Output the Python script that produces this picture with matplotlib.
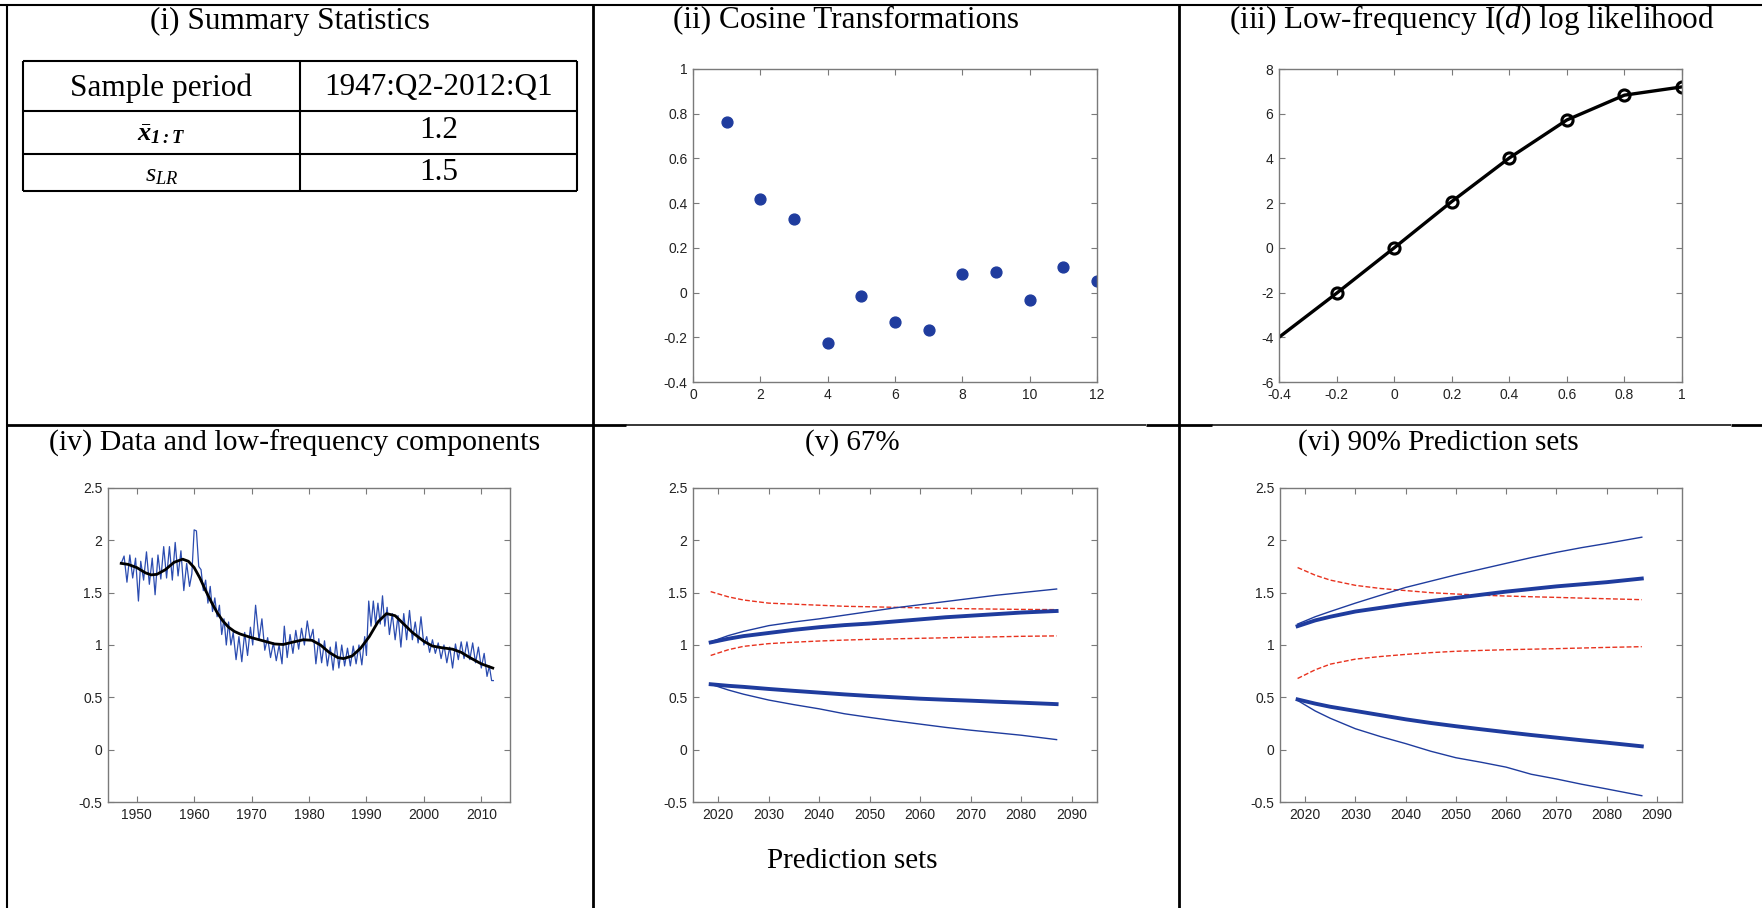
import matplotlib.pyplot as plt
from matplotlib.lines import Line2D
from matplotlib.ticker import FuncFormatter, MultipleLocator

plt.rcParams['axes.unicode_minus'] = False
plt.rcParams['mathtext.fontset'] = 'custom'
plt.rcParams['mathtext.rm'] = 'Liberation Serif'
plt.rcParams['mathtext.it'] = 'Liberation Serif:italic'
plt.rcParams['mathtext.bf'] = 'Liberation Serif:italic:bold'

# ---------------- data ----------------
# (ii) cosine transformations
cos_k = [1, 2, 3, 4, 5, 6, 7, 8, 9, 10, 11, 12]
cos_vals = [0.762, 0.418, 0.329, -0.225, -0.017, -0.131, -0.168,
            0.082, 0.093, -0.034, 0.116, 0.052]

# (iii) low-frequency I(d) log likelihood
d_grid = [-0.4, -0.2, 0.0, 0.2, 0.4, 0.6, 0.8, 1.0]
loglik = [-4.0, -2.03, 0.0, 2.07, 4.02, 5.72, 6.83, 7.2]

# (iv) data (turning points of the quarterly series) and low-frequency trend
data_years = [1947.3, 1947.8, 1948.3, 1948.8, 1949.3, 1949.8, 1950.3, 1950.7,
              1951.2, 1951.7, 1952.2, 1952.7, 1953.2, 1953.7, 1954.2, 1954.7,
              1955.2, 1955.7, 1956.2, 1956.7, 1957.2, 1957.7, 1958.2, 1958.7,
              1959.2, 1959.6, 1960.0, 1960.4, 1960.8, 1961.2, 1961.6, 1962.0,
              1962.4, 1962.8, 1963.2, 1963.6, 1964.0, 1964.4, 1964.8, 1965.2,
              1965.6, 1966.0, 1966.4, 1966.8, 1967.3, 1967.8, 1968.3, 1968.8,
              1969.3, 1969.8, 1970.2, 1970.7, 1971.3, 1971.8, 1972.3, 1972.8,
              1973.3, 1973.8, 1974.3, 1974.8, 1975.3, 1975.7, 1976.2, 1976.7,
              1977.2, 1977.7, 1978.2, 1978.7, 1979.2, 1979.7, 1980.2, 1980.7,
              1981.2, 1981.7, 1982.2, 1982.7, 1983.2, 1983.7, 1984.2, 1984.7,
              1985.2, 1985.7, 1986.2, 1986.7, 1987.2, 1987.7, 1988.2, 1988.7,
              1989.2, 1989.7, 1990.0, 1990.4, 1990.8, 1991.2, 1991.6, 1992.0,
              1992.4, 1992.8, 1993.2, 1993.6, 1994.0, 1994.5, 1995.0, 1995.5,
              1996.0, 1996.5, 1997.0, 1997.5, 1998.0, 1998.5, 1999.0, 1999.5,
              2000.0, 2000.5, 2001.0, 2001.5, 2002.0, 2002.5, 2003.0, 2003.5,
              2004.0, 2004.5, 2005.0, 2005.5, 2006.0, 2006.5, 2007.0, 2007.5,
              2008.0, 2008.5, 2009.0, 2009.5, 2010.0, 2010.5, 2011.0, 2011.4,
              2011.8, 2012.1]
data_vals = [1.78, 1.85, 1.60, 1.86, 1.64, 1.83, 1.42, 1.80,
             1.62, 1.89, 1.58, 1.83, 1.48, 1.86, 1.63, 1.94,
             1.64, 1.94, 1.62, 1.98, 1.66, 1.90, 1.52, 1.78,
             1.56, 1.68, 2.10, 2.09, 1.75, 1.72, 1.52, 1.62,
             1.40, 1.56, 1.32, 1.45, 1.27, 1.38, 1.10, 1.25,
             1.00, 1.22, 1.00, 1.12, 0.86, 1.08, 0.84, 1.12,
             0.90, 1.17, 1.00, 1.38, 1.05, 1.25, 0.95, 1.07,
             0.88, 1.02, 0.85, 1.00, 0.82, 1.18, 0.88, 1.10,
             0.92, 1.14, 0.96, 1.16, 1.00, 1.23, 1.05, 1.15,
             0.82, 1.06, 0.83, 1.04, 0.80, 0.98, 0.76, 1.03,
             0.78, 1.00, 0.80, 0.97, 0.80, 0.99, 0.82, 1.00,
             0.81, 1.08, 0.90, 1.42, 1.18, 1.42, 1.20, 1.40,
             1.20, 1.47, 1.18, 1.36, 1.10, 1.30, 1.05, 1.28,
             0.98, 1.30, 1.05, 1.33, 1.05, 1.22, 1.02, 1.27,
             1.00, 1.08, 0.93, 1.05, 0.92, 1.02, 0.87, 1.00,
             0.83, 0.98, 0.78, 1.01, 0.86, 1.03, 0.87, 1.03,
             0.86, 1.02, 0.83, 0.98, 0.78, 0.92, 0.70, 0.80,
             0.66, 0.66]

trend_years = [1947.3, 1948.5, 1950, 1951.5, 1952.5, 1953.5, 1955, 1956.5,
               1958, 1959, 1960, 1961, 1962, 1963, 1964, 1965, 1966, 1967,
               1968, 1970, 1972, 1974, 1975.5, 1977, 1979, 1980.5, 1982,
               1983.5, 1985, 1986, 1987.5, 1989, 1990.5, 1992, 1993.5, 1995,
               1996.5, 1998, 2000, 2001.5, 2003, 2005, 2006.5, 2008, 2010, 2012]
trend_vals = [1.78, 1.77, 1.74, 1.69, 1.67, 1.675, 1.72, 1.79,
              1.82, 1.80, 1.74, 1.64, 1.52, 1.41, 1.31, 1.23, 1.17, 1.13,
              1.105, 1.07, 1.04, 1.01, 1.005, 1.025, 1.05, 1.045, 1.00,
              0.93, 0.88, 0.87, 0.895, 0.97, 1.08, 1.22, 1.30, 1.28,
              1.20, 1.12, 1.035, 0.99, 0.975, 0.96, 0.93, 0.88, 0.82, 0.78]

# (v), (vi) prediction sets
fc_years = [2018.5, 2022, 2025, 2030, 2035, 2040, 2045, 2050, 2055, 2060,
            2065, 2070, 2075, 2080, 2087]

p67_thick_hi = [1.025, 1.06, 1.085, 1.115, 1.145, 1.17, 1.19, 1.205, 1.225,
                1.245, 1.265, 1.28, 1.295, 1.31, 1.325]
p67_thin_hi = [1.03, 1.09, 1.13, 1.185, 1.22, 1.25, 1.285, 1.32, 1.355,
               1.385, 1.415, 1.445, 1.475, 1.50, 1.535]
p67_thick_lo = [0.625, 0.61, 0.60, 0.58, 0.562, 0.545, 0.528, 0.513, 0.50,
                0.487, 0.477, 0.468, 0.458, 0.449, 0.435]
p67_thin_lo = [0.625, 0.57, 0.53, 0.474, 0.43, 0.39, 0.343, 0.308, 0.275,
               0.244, 0.213, 0.186, 0.162, 0.138, 0.096]
p67_red_hi = [1.51, 1.46, 1.43, 1.40, 1.39, 1.38, 1.37, 1.365, 1.36, 1.355,
              1.35, 1.346, 1.343, 1.34, 1.338]
p67_red_lo = [0.90, 0.955, 0.987, 1.013, 1.027, 1.038, 1.047, 1.054, 1.059,
              1.064, 1.069, 1.074, 1.078, 1.083, 1.087]

p90_thick_hi = [1.18, 1.235, 1.27, 1.32, 1.355, 1.39, 1.42, 1.45, 1.48, 1.51,
                1.535, 1.56, 1.58, 1.60, 1.635]
p90_thin_hi = [1.20, 1.27, 1.32, 1.40, 1.475, 1.55, 1.61, 1.67, 1.725, 1.78,
               1.835, 1.885, 1.93, 1.97, 2.03]
p90_thick_lo = [0.48, 0.44, 0.41, 0.37, 0.33, 0.29, 0.255, 0.224, 0.195,
                0.167, 0.14, 0.115, 0.09, 0.067, 0.032]
p90_thin_lo = [0.47, 0.37, 0.30, 0.20, 0.125, 0.058, -0.015, -0.077, -0.12,
               -0.167, -0.235, -0.28, -0.33, -0.375, -0.44]
p90_red_hi = [1.74, 1.667, 1.62, 1.57, 1.54, 1.52, 1.50, 1.487, 1.476, 1.468,
              1.461, 1.455, 1.448, 1.442, 1.433]
p90_red_lo = [0.68, 0.763, 0.817, 0.865, 0.89, 0.91, 0.927, 0.94, 0.948,
              0.955, 0.96, 0.965, 0.971, 0.977, 0.984]

# ---------------- figure ----------------
W, H = 1762, 908
fig = plt.figure(figsize=(W / 100, H / 100), dpi=100)
fig.patch.set_facecolor('white')

BLUE = '#1f3c9e'
RED = '#e8321e'
SERIF = 'Liberation Serif'
SANS = 'Liberation Sans'


def fx(x):
    return x / W


def fy(y):
    return 1 - y / H


def rule(x0, y0, x1, y1, lw=1.6):
    fig.add_artist(Line2D([fx(x0), fx(x1)], [fy(y0), fy(y1)],
                          transform=fig.transFigure, color='black', lw=lw,
                          solid_capstyle='butt'))


def label(x, y, s, size=22.5, **kw):
    fig.text(fx(x), fy(y), s, fontsize=size, family=SERIF,
             ha='center', va='center', **kw)


def panel(left, top, right, bottom):
    ax = fig.add_axes([fx(left), fy(bottom), (right - left) / W, (bottom - top) / H])
    for sp in ax.spines.values():
        sp.set_color('#7a7a7a')
        sp.set_linewidth(1.0)
    ax.tick_params(direction='in', top=True, right=True, length=4, width=0.8,
                   color='#7a7a7a', labelsize=10, labelcolor='#222222', pad=4)
    fmt = FuncFormatter(lambda v, p: '%g' % round(v, 6))
    ax.xaxis.set_major_formatter(fmt)
    ax.yaxis.set_major_formatter(fmt)
    return ax


# outer table grid
rule(0, 5, W, 5, lw=1.5)
rule(7, 5, 7, H, lw=1.5)
rule(593, 5, 593, H, lw=2.0)
rule(1179, 5, 1179, H, lw=2.0)
rule(7, 425, 626, 425, lw=2.0)
rule(626, 425, 1146, 425, lw=1.1)
rule(1146, 425, 1212, 425, lw=2.0)
rule(1212, 425, 1731, 425, lw=1.1)
rule(1731, 425, W, 425, lw=2.0)

# (i) summary statistics table
label(290, 21, '(i) Summary Statistics')
tl, tm, tr = 23, 300, 577
rows = [61, 111, 154, 191]
for y in rows:
    rule(tl, y, tr, y, lw=1.5)
for x in (tl, tm, tr):
    rule(x, rows[0], x, rows[-1], lw=1.5)
label((tl + tm) / 2, 88, 'Sample period')
label((tm + tr) / 2, 88, '1947:Q2-2012:Q1')
label((tl + tm) / 2, 134, r'$\bar{\mathbf{x}}_{\mathbf{1:T}}$', size=19)
label((tm + tr) / 2, 130, '1.2')
label((tl + tm) / 2, 176, r'$s_{LR}$', size=19)
label((tm + tr) / 2, 173, '1.5')

# (ii) cosine transformations
label(846, 20, '(ii) Cosine Transformations')
ax2 = panel(693, 69, 1097, 382)
ax2.plot(cos_k, cos_vals, 'o', color=BLUE, ms=7.8, mec=BLUE)
ax2.set_xlim(0, 12)
ax2.set_ylim(-0.4, 1)
ax2.xaxis.set_major_locator(MultipleLocator(2))
ax2.yaxis.set_major_locator(MultipleLocator(0.2))

# (iii) log likelihood
label(1472, 20, r'(iii) Low-frequency I($d$) log likelihood')
ax3 = panel(1279, 69, 1682, 382)
ax3.plot(d_grid, loglik, '-', color='black', lw=2.4)
ax3.plot(d_grid[1:], loglik[1:], 'o', ms=8, mfc='none', mec='black', mew=2.2)
ax3.set_xlim(-0.4, 1)
ax3.set_ylim(-6, 8)
ax3.xaxis.set_major_locator(MultipleLocator(0.2))
ax3.yaxis.set_major_locator(MultipleLocator(2))

# (iv) data and low-frequency component
label(295, 443, '(iv) Data and low-frequency components', size=21.5)
ax4 = panel(108, 488, 510, 802)
ax4.plot(data_years, data_vals, '-', color='#2b4cb0', lw=0.9)
ax4.plot(trend_years, trend_vals, '-', color='black', lw=2.0)
ax4.set_xlim(1945, 2015)
ax4.set_ylim(-0.5, 2.5)
ax4.set_xticks(range(1950, 2011, 10))
ax4.yaxis.set_major_locator(MultipleLocator(0.5))


def prediction_panel(ax, thick_hi, thin_hi, thick_lo, thin_lo, red_hi, red_lo):
    ax.plot(fc_years, red_hi, color=RED, lw=1.0, ls=(0, (3.5, 1.6)))
    ax.plot(fc_years, red_lo, color=RED, lw=1.0, ls=(0, (3.5, 1.6)))
    ax.plot(fc_years, thin_hi, color=BLUE, lw=1.0)
    ax.plot(fc_years, thin_lo, color=BLUE, lw=1.0)
    ax.plot(fc_years, thick_hi, color=BLUE, lw=2.8)
    ax.plot(fc_years, thick_lo, color=BLUE, lw=2.8)
    ax.set_xlim(2015, 2095)
    ax.set_ylim(-0.5, 2.5)
    ax.set_xticks(range(2020, 2091, 10))
    ax.yaxis.set_major_locator(MultipleLocator(0.5))


# (v) 67% prediction sets
label(852, 443, '(v) 67%', size=21)
ax5 = panel(693, 488, 1097, 802)
prediction_panel(ax5, p67_thick_hi, p67_thin_hi, p67_thick_lo, p67_thin_lo,
                 p67_red_hi, p67_red_lo)
label(852, 861, 'Prediction sets', size=21)

# (vi) 90% prediction sets
label(1438, 443, '(vi) 90% Prediction sets', size=21)
ax6 = panel(1280, 488, 1682, 802)
prediction_panel(ax6, p90_thick_hi, p90_thin_hi, p90_thick_lo, p90_thin_lo,
                 p90_red_hi, p90_red_lo)

# MATLAB-like Helvetica tick labels
for ax in (ax2, ax3, ax4, ax5, ax6):
    for t in ax.get_xticklabels() + ax.get_yticklabels():
        t.set_family(SANS)

fig.savefig('out.png', dpi=100, facecolor='white')
plt.close(fig)
